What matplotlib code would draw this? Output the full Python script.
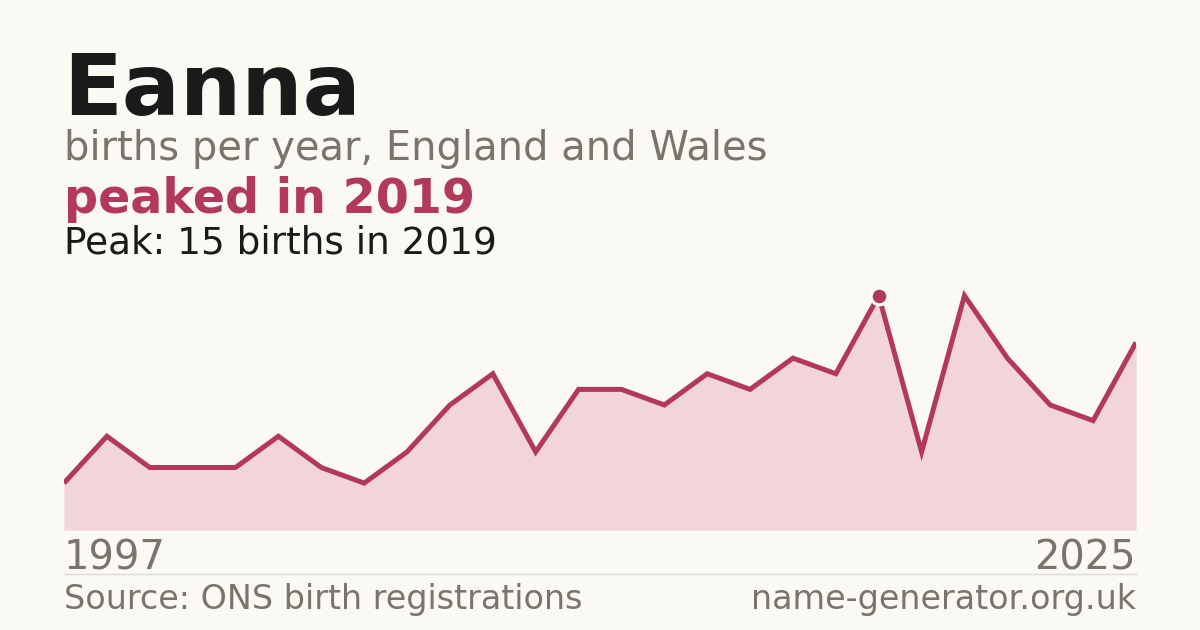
import numpy as np
import matplotlib
matplotlib.use("Agg")
import matplotlib.pyplot as plt

# births per year (evenly spaced points, first 1997, last 2025)
counts = [3, 6, 4, 4, 4, 6, 4, 3, 5, 8, 10, 5, 9, 9, 8, 10, 9, 11, 10, 15, 5, 15, 11, 8, 7, 12]
first_year = "1997"
last_year = "2025"
peak_year = 2019

name = "Eanna"
subtitle = "births per year, England and Wales"
headline = "peaked in 2019"
peak_note = "Peak: 15 births in 2019"
source = "Source: ONS birth registrations"
site = "name-generator.org.uk"

BG = "#faf9f4"
DARK = "#1a1a1a"
GREY = "#7a756c"
ACCENT = "#b3395a"
FILL = "#f2d5da"

fig = plt.figure(figsize=(12, 6.3), dpi=100, facecolor=BG)

ax = fig.add_axes([64 / 1200, 100 / 630, 1072 / 1200, 250 / 630])
ax.set_facecolor(BG)
x = np.arange(len(counts))
y = np.array(counts)
ax.fill_between(x, 0, y, color=FILL, linewidth=0)
ax.plot(x, y, color=ACCENT, linewidth=3.6, solid_joinstyle="miter", solid_capstyle="butt")
ip = int(np.argmax(y))
ax.plot([x[ip]], [y[ip]], "o", color=ACCENT, markersize=12,
        markeredgecolor="white", markeredgewidth=2.2, clip_on=False, zorder=5)
ax.set_xlim(0, len(counts) - 1)
ax.set_ylim(0, 16)
ax.axis("off")

def px(xp, yp):
    return xp / 1200, 1 - yp / 630

fig.text(*px(63, 115), name, fontsize=62, fontweight="bold", color=DARK, va="baseline")
fig.text(*px(64, 160), subtitle, fontsize=28.8, color=GREY, va="baseline")
fig.text(*px(64, 213), headline, fontsize=34.3, fontweight="bold", color=ACCENT, va="baseline")
fig.text(*px(64, 253), peak_note, fontsize=26.9, color=DARK, va="baseline")

fig.text(*px(64, 570), first_year, fontsize=28.8, color=GREY, va="baseline")
fig.text(*px(1136, 570), last_year, fontsize=28.8, color=GREY, va="baseline", ha="right")

fig.add_artist(plt.Line2D([64 / 1200, 1136 / 1200], [1 - 574 / 630] * 2,
                          color="#dddad3", linewidth=1))

fig.text(*px(64, 609), source, fontsize=24, color=GREY, va="baseline")
fig.text(*px(1136, 609), site, fontsize=24, color=GREY, va="baseline", ha="right")

fig.savefig("out.png", dpi=100, facecolor=BG)
